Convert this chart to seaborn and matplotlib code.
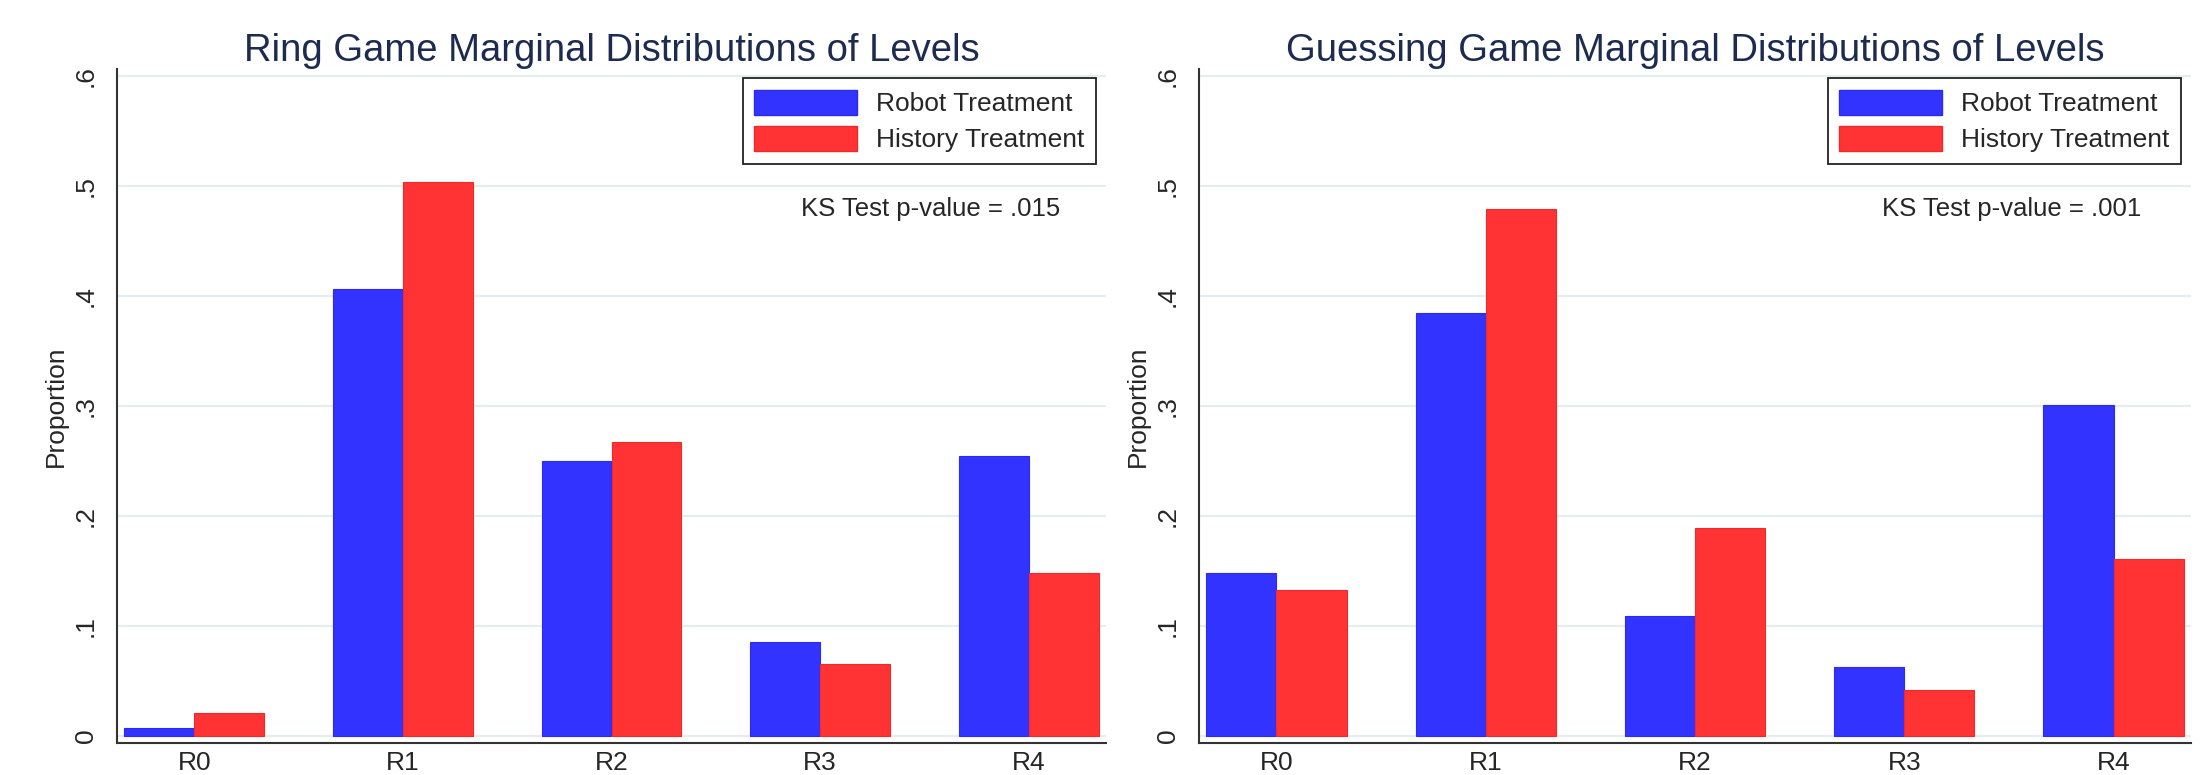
import matplotlib

matplotlib.use("Agg")
import matplotlib.pyplot as plt
import pandas as pd
import seaborn as sns
from matplotlib.patches import Patch

sns.set_style("white")
plt.rcParams["font.family"] = ["Liberation Sans", "DejaVu Sans"]

levels = ["R0", "R1", "R2", "R3", "R4"]
treatments = ["Robot Treatment", "History Treatment"]

ring_robot = [0.007, 0.406, 0.250, 0.085, 0.254]
ring_history = [0.021, 0.503, 0.267, 0.065, 0.148]
guess_robot = [0.148, 0.384, 0.109, 0.063, 0.301]
guess_history = [0.133, 0.479, 0.189, 0.042, 0.161]

panel_titles = [
    "Ring Game Marginal Distributions of Levels",
    "Guessing Game Marginal Distributions of Levels",
]
ks_labels = ["KS Test p-value = .015", "KS Test p-value = .001"]
yticks = [0, 0.1, 0.2, 0.3, 0.4, 0.5, 0.6]
ytick_labels = ["0", ".1", ".2", ".3", ".4", ".5", ".6"]

BLUE = "#3333ff"
RED = "#ff3333"
NAVY = "#1c2b4f"


def make_frame(robot, history):
    return pd.DataFrame(
        {
            "level": levels * 2,
            "prop": robot + history,
            "treatment": [treatments[0]] * len(levels) + [treatments[1]] * len(levels),
        }
    )


def draw_panel(ax, df, title, ks_text, ks_x):
    sns.barplot(
        data=df,
        x="level",
        y="prop",
        hue="treatment",
        hue_order=treatments,
        palette=[BLUE, RED],
        width=0.67,
        saturation=1,
        legend=False,
        ax=ax,
    )
    for cont, col in zip(ax.containers, ["#2a2af0", "#f02a2a"]):
        for bar in cont:
            bar.set_edgecolor(col)
            bar.set_linewidth(0.8)

    ax.set_xlim(-0.37, 4.37)
    ax.set_ylim(-0.0064, 0.606)
    ax.set_yticks(yticks)
    ax.set_yticklabels(ytick_labels, rotation=90, va="center", fontsize=19)
    ax.tick_params(axis="y", length=8, width=1.3, color="#333333", pad=6)
    ax.tick_params(axis="x", length=0, pad=6, labelsize=19)
    ax.grid(axis="y", color="#e4eef1", linewidth=1.6)
    ax.set_axisbelow(True)

    for side in ["top", "right"]:
        ax.spines[side].set_visible(False)
    for side in ["left", "bottom"]:
        ax.spines[side].set_color("#333333")
        ax.spines[side].set_linewidth(1.5)

    ax.set_xlabel("")
    ax.set_ylabel("Proportion", fontsize=19, labelpad=4)
    ax.set_title(title, fontsize=27.5, color=NAVY, pad=6)

    handles = [
        Patch(facecolor=BLUE, edgecolor="#2a2af0", label=treatments[0]),
        Patch(facecolor=RED, edgecolor="#f02a2a", label=treatments[1]),
    ]
    leg = ax.legend(
        handles=handles,
        loc="upper right",
        bbox_to_anchor=(0.990, 0.987),
        borderaxespad=0,
        fontsize=19,
        handlelength=3.9,
        handleheight=1.1,
        handletextpad=0.7,
        labelspacing=0.35,
        borderpad=0.45,
        fancybox=False,
        framealpha=1,
        edgecolor="#222222",
    )
    leg.get_frame().set_linewidth(1.3)

    # KS text sits at data height ~0.479
    ax.text(ks_x, 0.479, ks_text, transform=ax.get_yaxis_transform(),
            ha="right", va="center", fontsize=18.5)


fig = plt.figure(figsize=(22.04, 7.75), dpi=100)
ax1 = fig.add_axes([117 / 2204, 32 / 775, 989 / 2204, 674 / 775])
ax2 = fig.add_axes([1199 / 2204, 32 / 775, 992 / 2204, 674 / 775])

draw_panel(ax1, make_frame(ring_robot, ring_history), panel_titles[0], ks_labels[0], 0.9535)
draw_panel(ax2, make_frame(guess_robot, guess_history), panel_titles[1], ks_labels[1], 0.9496)

fig.savefig("out.png", dpi=100, facecolor="white")
